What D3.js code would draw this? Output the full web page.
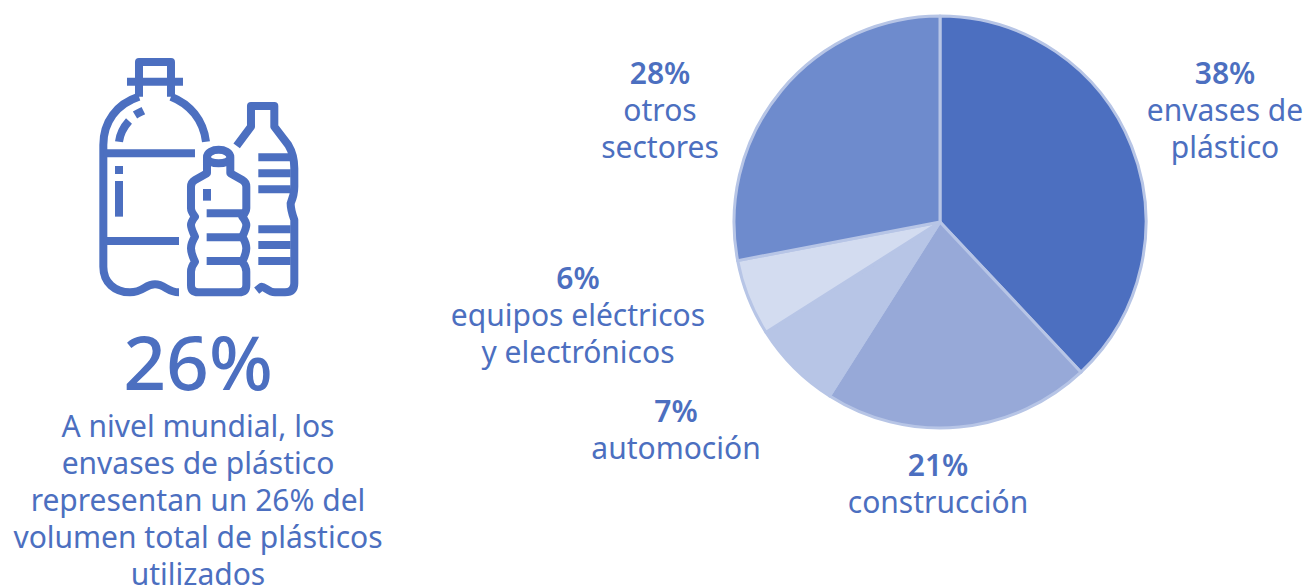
<!DOCTYPE html>
<html lang="es">

<head>
    <meta charset="UTF-8">
    <title>Plásticos</title>
    <script src="https://cdn.jsdelivr.net/npm/d3@7/dist/d3.min.js"></script>
    <style>
        * {
            margin: 0;
        }

        body {
            background: #fff;
        }

        text {
            font-family: "Noto Sans", sans-serif;
            fill: #4c6fc0;
            text-anchor: middle;
        }
    </style>
</head>

<body>
    <div id="chart"></div>
    <script>
        // datos
        const categories = ['envases de plástico', 'construcción', 'automoción', 'equipos eléctricos y electrónicos', 'otros sectores'];
        const shares = [38, 21, 7, 6, 28];
        const labelLines = [
            ['envases de', 'plástico'],
            ['construcción'],
            ['automoción'],
            ['equipos eléctricos', 'y electrónicos'],
            ['otros', 'sectores']
        ];
        const headline = '26%';
        const caption = [
            'A nivel mundial, los',
            'envases de plástico',
            'representan un 26% del',
            'volumen total de plásticos',
            'utilizados'
        ];

        const blue = '#4c6fc0';
        const sliceColors = ['#4c6fc0', '#97a9d8', '#b7c5e6', '#d3dcf0', '#6e8bcd'];
        // centro y primera línea de cada etiqueta
        const labelX = [1225, 938, 676, 578, 660];
        const labelY = [84, 476, 422, 289, 84];

        const svg = d3.select('#chart').append('svg')
            .attr('width', 1306)
            .attr('height', 588)
            .style('display', 'block');

        // tarta
        const color = d3.scaleOrdinal().domain(categories).range(sliceColors);
        const pie = d3.pie().sort(null).value(d => d.share);
        const arc = d3.arc().innerRadius(0).outerRadius(206);
        const rows = categories.map((c, i) => ({ name: c, share: shares[i], lines: labelLines[i] }));

        svg.append('g')
            .attr('transform', 'translate(940,222)')
            .selectAll('path')
            .data(pie(rows))
            .enter()
            .append('path')
            .attr('d', arc)
            .attr('fill', d => color(d.data.name))
            .attr('stroke', '#b7c5e6')
            .attr('stroke-width', 3)
            .attr('stroke-linejoin', 'round');

        // etiquetas
        const labels = svg.selectAll('g.label')
            .data(rows)
            .enter()
            .append('g')
            .attr('class', 'label')
            .attr('transform', (d, i) => `translate(${labelX[i]},${labelY[i]})`);

        labels.append('text')
            .attr('font-size', 30)
            .attr('font-weight', 600)
            .text(d => d.share + '%');

        labels.each(function (d) {
            d3.select(this).selectAll('text.line')
                .data(d.lines)
                .enter()
                .append('text')
                .attr('class', 'line')
                .attr('y', (l, i) => 37 + i * 37)
                .attr('font-size', 30)
                .text(l => l);
        });

        // texto de la izquierda
        svg.append('text')
            .attr('x', 198)
            .attr('y', 390)
            .attr('font-size', 75)
            .attr('font-weight', 500)
            .text(headline);

        svg.append('g')
            .selectAll('text')
            .data(caption)
            .enter()
            .append('text')
            .attr('x', 198)
            .attr('y', (d, i) => 437 + i * 37)
            .attr('font-size', 30)
            .text(d => d);

        // icono de las botellas, dibujado sobre el recorte ampliado x3
        const icon = svg.append('g')
            .attr('transform', 'translate(80,40) scale(0.3333)')
            .attr('fill', 'none')
            .attr('stroke', blue)
            .attr('stroke-width', 24)
            .attr('stroke-linejoin', 'round');

        const bottlePaths = [
            // botella grande
            'M177,170 V66 H273 V170',
            'M141,125 H309',
            'M177,170 C110,192 70,245 70,315 V680 C70,728 105,757 150,757 C190,757 195,733 225,733 C255,733 262,757 297,757',
            'M273,170 C330,192 370,240 378,305',
            'M70,340 H345',
            'M70,603 H297',
            'M117,305 C120,282 130,262 147,243',
            'M165,225 C173,220 182,216 190,212',
            'M117,378 V402',
            'M117,423 V530',
            // botella pequeña
            'M381,352 C381,322 451,322 451,352 C451,376 381,376 381,352 V400 L345,420 Q333,427 333,440 V505 Q333,515 345,530 Q333,545 333,555 Q333,565 345,590 Q333,610 333,625 Q333,640 345,665 Q333,680 333,695 V735 Q333,757 355,757 H477 Q499,757 499,735 V695 Q499,680 487,665 Q499,640 499,625 Q499,610 487,590 Q499,565 499,555 Q499,545 487,530 Q499,515 499,505 V440 Q499,427 487,420 L451,400 V352',
            'M380,520 H490',
            'M380,592 H490',
            'M380,663 H490',
            'M381,447 V482',
            // botella alta
            'M470,318 L513,260 V198 H583 V260 L625,315 Q643,345 643,385 V440 Q643,465 632,490 Q632,510 643,540 V730 Q643,757 615,757 H585 C565,757 555,740 545,740 L530,752',
            'M535,352 H632',
            'M535,400 H632',
            'M535,448 H632',
            'M535,568 H632',
            'M535,615 H632',
            'M535,663 H632'
        ];

        icon.selectAll('path')
            .data(bottlePaths)
            .enter()
            .append('path')
            .attr('d', d => d);
    </script>
</body>

</html>
